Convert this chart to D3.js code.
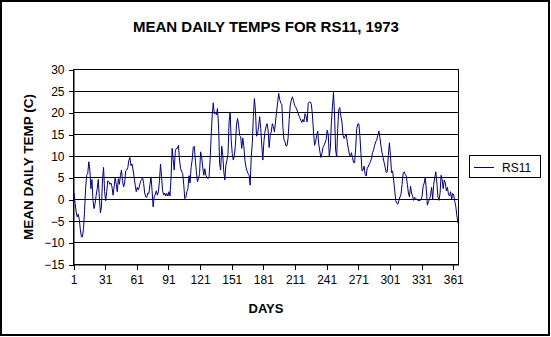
<!DOCTYPE html>
<html><head><meta charset="utf-8">
<script src="https://cdn.jsdelivr.net/npm/d3@7"></script>
<style>
html,body{margin:0;padding:0;background:#fff;}
svg{display:block;}
text{font-family:"Liberation Sans",Arial,sans-serif;fill:#000;}
</style></head>
<body><svg id="c" width="551" height="337"></svg>
<script>
const title = "MEAN DAILY TEMPS FOR RS11, 1973";
const xTitle = "DAYS";
const yTitle = "MEAN DAILY TEMP (C)";
const seriesName = "RS11";
const xTickLabels = [1,31,61,91,121,151,181,211,241,271,301,331,361];
const yTickValues = [-15,-10,-5,0,5,10,15,20,25,30];
const temps = [
1.5,-0.9,-2.8,-4,-3.4,-4.6,-7,-8.6,-8.6,-6.7,
-2.5,2.7,5.6,6,8.7,6.8,2.5,4.6,-0.2,-2.1,
-0.9,1,2.5,4.6,0.6,-3.1,-1.7,4.5,7.4,1.8,
-0.3,1.8,4.3,4.1,3.5,3.8,2.9,1,2.9,5.1,
3.5,1.8,4.8,3.5,5.6,6.8,4.3,2.9,3.8,6.6,
6.8,7.4,9.1,9.7,7.8,8.2,6.8,5.1,3.3,1.8,
2.8,2.2,3.1,4.1,4.6,5.1,3.7,1.5,0.6,0.5,
1.5,1.4,3.5,5.2,2,-1.7,0.6,1.2,2,1,
1.8,4.3,8.2,5.2,2,1,1.5,0.8,1.4,0.8,
1.8,0.8,5.1,11.8,9.2,6.8,11.2,11.8,11.8,12.5,
9.1,7.2,6.4,6,3.5,0.2,0.5,1.8,2.5,5.5,
3.8,7.4,9.1,12,12.3,9.1,6.4,4.1,4.8,6,
11,9.8,7.5,5.6,7.1,5.6,5.1,4.8,5.2,9.1,
14.5,19.5,22.3,19.8,20.2,19.5,21,17.2,8.3,6.8,
12.3,10.2,6.4,4.5,7.9,9.1,10.6,17.9,20.2,13.7,
10.6,9.1,10.2,12.5,17.2,18.7,17.2,14.8,14.5,11.8,
14.2,12.2,9.1,7.5,6.6,6,5.6,3.3,9.8,12.9,
19.1,23.3,20.6,14.6,15.1,16.8,19.1,16.4,12.5,9.1,
13.3,15.6,16.8,17.5,16,12,14.8,15.6,17.5,16.8,
15.6,17.9,20.2,22.3,24.5,23.1,22.2,22,16.8,13.8,
13.3,12.3,12.5,14.3,18.5,21.8,22.9,23.7,22.9,21.8,
21.4,20.9,20.2,19.5,18.9,18.3,17.8,18.5,17.9,19.8,
19.2,17.9,22.2,22.5,22.5,22,19.5,15.8,12.5,13.3,
14.8,15.8,12.8,11.2,9.7,10.6,12,12.5,13.1,13.8,
16,15,10,11.8,17.9,21.4,24.7,19.5,11.4,9.8,
16.4,20.8,21.2,19.2,17.9,14.8,14.1,14.6,15.1,13.3,
11.8,10.5,9.8,10.8,9.7,8.5,8.5,11.8,16.4,17.4,
17.5,14.8,10.6,6.6,6.8,7.7,5.8,5.4,7.4,7.5,
8.3,8.7,9.5,10.8,11.4,12.5,13.3,13.8,14.8,15.8,
14.3,12.3,10.8,9.7,8.5,7.4,6.2,6.4,10.2,13.1,
10.2,6.2,6.6,4.5,2.2,-0.3,-0.8,-1.1,-0.2,0.6,
1.2,3.5,6,6.4,5.8,5.4,3.5,1.5,0.6,3.1,
1.5,0.8,-0.2,0.5,0.2,0,-0.2,-0.3,-0.2,0,
0.8,3.1,3.8,5.2,2.2,-1.3,-0.5,0,1,2.8,
0,3.5,5.1,6.4,3.8,0.6,-0.2,1.4,5.6,4.5,
2.5,4.5,3.8,2,2.8,1.2,0.8,1.8,0,1.4,
1,-0.5,-1.7,-3.8,-5.5
];
const days = temps.map((_, i) => i + 1);

const svg = d3.select("#c");
const L = 73.5, R = 458.5, T = 69.5, B = 264.5;

// outer border
svg.append("rect").attr("x",1).attr("y",1).attr("width",548).attr("height",334)
  .attr("fill","#fff").attr("stroke","#000").attr("stroke-width",2);

const x = d3.scaleLinear().domain([0, days.length]).range([L, R]);
const y = d3.scaleLinear().domain([-15, 30]).range([B, T]);

// gridlines
svg.append("g").selectAll("line").data(yTickValues).join("line")
  .attr("x1", L).attr("x2", R)
  .attr("y1", d => Math.round(y(d) - 0.5) + 0.5).attr("y2", d => Math.round(y(d) - 0.5) + 0.5)
  .attr("stroke", "#000").attr("stroke-width", 1).attr("shape-rendering","crispEdges");

// plot border
svg.append("rect").attr("x", L).attr("y", T).attr("width", R - L).attr("height", B - T)
  .attr("fill","none").attr("stroke","#000").attr("shape-rendering","crispEdges");

// axes
const xAxis = d3.axisBottom(x).tickValues(xTickLabels.map(d => d - 1))
  .tickFormat(v => String(v + 1)).tickSize(5).tickSizeOuter(0).tickPadding(6);
const gx = svg.append("g").attr("transform", `translate(0,${B})`).call(xAxis);
gx.select(".domain").attr("stroke","#000");
gx.selectAll(".tick line").attr("stroke","#000").attr("shape-rendering","crispEdges");
gx.selectAll("text").attr("font-size", 12).attr("font-family","Liberation Sans, Arial, sans-serif").attr("fill","#000");

const yAxis = d3.axisLeft(y).tickValues(yTickValues).tickSize(5).tickSizeOuter(0).tickPadding(4);
const gy = svg.append("g").attr("transform", `translate(${L},0)`).call(yAxis);
gy.select(".domain").attr("stroke","#000");
gy.selectAll(".tick line").attr("stroke","#000").attr("shape-rendering","crispEdges");
gy.selectAll("text").attr("font-size", 12).attr("font-family","Liberation Sans, Arial, sans-serif").attr("fill","#000");

// line
const line = d3.line().x((d, i) => x(days[i] - 0.5)).y(d => y(d));
svg.append("path").datum(temps).attr("d", line)
  .attr("fill","none").attr("stroke","#000080").attr("stroke-width",1);

// titles
svg.append("text").attr("x", 266).attr("y", 32).attr("text-anchor","middle")
  .attr("font-size", 15).attr("font-weight","bold").text(title);
svg.append("text").attr("x", (L + R) / 2).attr("y", 313).attr("text-anchor","middle")
  .attr("font-size", 13).attr("font-weight","bold").text(xTitle);
svg.append("text").attr("transform", `translate(33,${(T + B) / 2}) rotate(-90)`)
  .attr("text-anchor","middle").attr("font-size", 13.5).attr("font-weight","bold").text(yTitle);

// legend
const lg = svg.append("g");
lg.append("rect").attr("x", 469.5).attr("y", 155.5).attr("width", 71).attr("height", 22)
  .attr("fill","#fff").attr("stroke","#000");
lg.append("line").attr("x1", 474).attr("x2", 494).attr("y1", 167.5).attr("y2", 167.5)
  .attr("stroke","#000080");
lg.append("text").attr("x", 502).attr("y", 171.5).attr("font-size", 12).text(seriesName);
</script></body></html>
